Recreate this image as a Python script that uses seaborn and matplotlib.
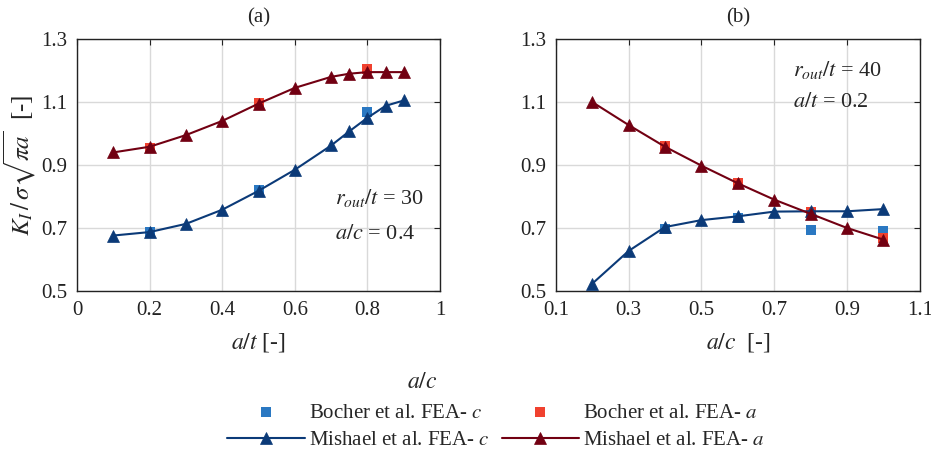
import numpy as np
import pandas as pd
import matplotlib
matplotlib.use("Agg")
import matplotlib.pyplot as plt
import seaborn as sns

# panel (a): K_I vs a/t, r_out/t = 30, a/c = 0.4
at_mish = [0.1, 0.2, 0.3, 0.4, 0.5, 0.6, 0.7, 0.75, 0.8, 0.85, 0.9]
a_mish_c = [0.676, 0.687, 0.713, 0.758, 0.818, 0.885, 0.962, 1.007, 1.050, 1.088, 1.105]
a_mish_a = [0.940, 0.958, 0.995, 1.040, 1.095, 1.145, 1.180, 1.190, 1.195, 1.195, 1.195]
at_boch = [0.2, 0.5, 0.8]
a_boch_c = [0.687, 0.820, 1.068]
a_boch_a = [0.955, 1.098, 1.205]

# panel (b): K_I vs a/c, r_out/t = 40, a/t = 0.2
ac_mish = [0.2, 0.3, 0.4, 0.5, 0.6, 0.7, 0.8, 0.9, 1.0]
b_mish_c = [0.523, 0.627, 0.703, 0.725, 0.737, 0.752, 0.753, 0.753, 0.760]
b_mish_a = [1.100, 1.027, 0.958, 0.898, 0.842, 0.790, 0.745, 0.700, 0.663]
ac_boch = [0.4, 0.6, 0.8, 1.0]
b_boch_c = [0.697, 0.732, 0.692, 0.690]
b_boch_a = [0.960, 0.843, 0.752, 0.668]

c_dark_blue = "#0b3a78"
c_dark_red = "#720012"
c_blue = "#2a78c2"
c_red = "#f0412f"

sns.set_theme(style="white")
plt.rcParams["font.family"] = ["Liberation Serif", "DejaVu Serif"]
plt.rcParams["mathtext.fontset"] = "stix"
plt.rcParams["font.size"] = 14

fig = plt.figure(figsize=(9.31, 4.49), dpi=100)
ax1 = fig.add_axes([0.0827, 0.352, 0.390, 0.561])
ax2 = fig.add_axes([0.597, 0.352, 0.391, 0.561])


def draw(ax, xm, yc, ya, xb, bc, ba):
    dm = pd.DataFrame({"x": xm, "c": yc, "a": ya})
    db = pd.DataFrame({"x": xb, "c": bc, "a": ba})
    sns.scatterplot(data=db, x="x", y="c", ax=ax, marker="s", s=55, color=c_blue,
                    linewidth=0, label="Bocher et al. FEA- $c$", zorder=3)
    sns.lineplot(data=dm, x="x", y="c", ax=ax, color=c_dark_blue, marker="^", markersize=8,
                 markeredgewidth=0.5, markeredgecolor=c_dark_blue, linewidth=1.5,
                 label="Mishael et al. FEA- $c$", zorder=4)
    sns.scatterplot(data=db, x="x", y="a", ax=ax, marker="s", s=55, color=c_red,
                    linewidth=0, label="Bocher et al. FEA- $a$", zorder=3)
    sns.lineplot(data=dm, x="x", y="a", ax=ax, color=c_dark_red, marker="^", markersize=8,
                 markeredgewidth=0.5, markeredgecolor=c_dark_red, linewidth=1.5,
                 label="Mishael et al. FEA- $a$", zorder=4)
    ax.set_ylim(0.5, 1.3)
    ax.set_yticks([0.5, 0.7, 0.9, 1.1, 1.3])
    ax.grid(True, color="#d9d9d9", linewidth=1.0)
    ax.set_axisbelow(True)
    ax.tick_params(direction="in", top=True, right=True, length=4, width=0.8,
                   labelsize=15, colors="#222222", pad=7)
    for sp in ax.spines.values():
        sp.set_color("#222222")
        sp.set_linewidth(1.0)
    ax.get_legend().remove()


draw(ax1, at_mish, a_mish_c, a_mish_a, at_boch, a_boch_c, a_boch_a)
draw(ax2, ac_mish, b_mish_c, b_mish_a, ac_boch, b_boch_c, b_boch_a)

ax1.set_xlim(0, 1)
ax1.set_xticks([0, 0.2, 0.4, 0.6, 0.8, 1.0])
ax1.set_xticklabels(["0", "0.2", "0.4", "0.6", "0.8", "1"])
ax2.set_xlim(0.1, 1.1)
ax2.set_xticks([0.1, 0.3, 0.5, 0.7, 0.9, 1.1])
ax2.set_xticklabels(["0.1", "0.3", "0.5", "0.7", "0.9", "1.1"])

ax1.set_xlabel("$a/t$ [-]", fontsize=17, labelpad=8)
ax2.set_xlabel("$a/c$  [-]", fontsize=17, labelpad=8)
ax1.set_ylabel(r"$K_I\,/\,\sigma\sqrt{\pi a}$  [-]", fontsize=18, labelpad=2)
ax2.set_ylabel("")
ax1.set_title("(a)", fontsize=15, pad=12)
ax2.set_title("(b)", fontsize=15, pad=12)

# annotations
ax1.text(0.711, 0.795, "$r_{out}/t$ = 30", fontsize=16, ha="left", va="center")
ax1.text(0.711, 0.678, "$a/c$ = 0.4", fontsize=16, ha="left", va="center")
ax2.text(0.751, 1.202, "$r_{out}/t$ = 40", fontsize=16, ha="left", va="center")
ax2.text(0.751, 1.100, "$a/t$ = 0.2", fontsize=16, ha="left", va="center")

fig.text(0.453, 0.147, "$a/c$", fontsize=17, ha="center", va="center")

handles, labels = ax1.get_legend_handles_labels()
fig.legend(handles, labels, loc="lower center", bbox_to_anchor=(0.533, -0.045), ncol=2,
           frameon=False, fontsize=15, handlelength=3.7, columnspacing=0.6,
           handletextpad=0.2, labelspacing=0.4)

fig.savefig("out.png", dpi=100)
